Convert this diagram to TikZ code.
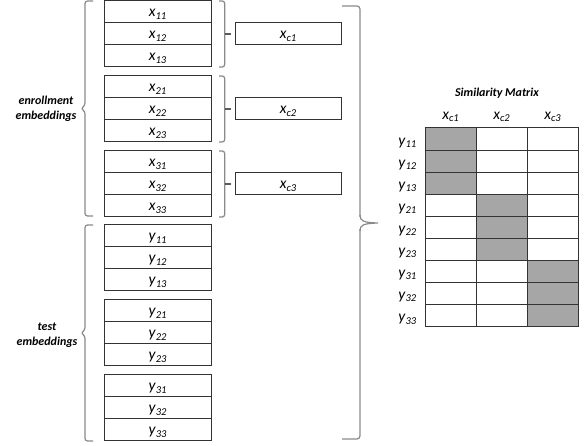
\documentclass[tikz,border=0pt]{standalone}
\usepackage{fontspec}
\setmainfont{Carlito}
\usetikzlibrary{calc}

% italic symbol with a lowered italic index
\newcommand\ssub[2]{\textit{#1}\raisebox{-2.2pt}{\fontsize{10.5}{10.5}\selectfont\textit{#2}}}

\definecolor{boxline}{HTML}{333333}
\definecolor{braceline}{HTML}{8A8A8A}
\definecolor{hit}{HTML}{A6A6A6}

\begin{document}
\begin{tikzpicture}[x=1pt,y=-1pt,
  lbl/.style={font=\fontsize{15.5}{15.5}\selectfont},
  row/.style={draw=boxline, line width=1pt, minimum width=107pt, minimum height=22pt,
              inner sep=0pt, text height=11pt, text depth=1pt, lbl},
  cbox/.style={row, minimum width=106pt},
  cell/.style={draw=boxline, line width=1pt, minimum width=51pt, minimum height=22.1pt, inner sep=0pt},
  hdr/.style={inner sep=0pt, anchor=base, lbl},
  rlab/.style={inner sep=0pt, anchor=base east, lbl},
  bracestyle/.style={draw=braceline, line width=1.2pt, rounded corners=2.5pt},
  tick/.style={draw=boxline!80!white, line width=1.2pt},
  side/.style={font=\fontsize{12}{14.5}\selectfont\bfseries\itshape, align=center, inner sep=0pt}
]
\useasboundingbox (0,0) rectangle (587,446);

% enrollment embeddings: three groups of three rows, each group averaged into x_c
\foreach \g/\t in {1/1,2/76,3/151}{
  \foreach \r in {1,2,3}
    \node[row] (x\g\r) at (157.5,{\t+11+(\r-1)*22}) {\ssub{x}{\g\r}};
  \node[cbox] (xc\g) at (288,{\t+33}) {\ssub{x}{c\g}};
  % small brace closing the group
  \draw[bracestyle] (219,\t) -- (224.7,\t) -- (224.7,{\t+66}) -- (219,{\t+66});
  \coordinate (bt\g) at (224.7,{\t+33});
  \draw[tick] (bt\g) -- ($(xc\g.west)+(-4,0)$);
}

% test embeddings
\foreach \g/\t in {1/225,2/300,3/375}
  \foreach \r in {1,2,3}
    \node[row] (y\g\r) at (157.5,{\t+11+(\r-1)*22}) {\ssub{y}{\g\r}};

% left braces with their labels
\draw[bracestyle] (93,1) -- (85,1) -- (85,105.5) -- (81,108.5) -- (85,111.5) -- (85,216) -- (93,216);
\draw[bracestyle] (93,225) -- (85,225) -- (85,330) -- (81,333) -- (85,336) -- (85,441) -- (93,441);
\node[side] (enr) at (46,109) {enrollment\\embeddings};
\node[side] (tst) at (47,335) {test\\embeddings};

% large brace gathering everything towards the matrix
\draw[braceline, line width=1.2pt, rounded corners=3pt]
  (342,6) -- (360,6) -- (360,217);
\draw[braceline, line width=1.2pt]
  (360,215) .. controls (360,221) and (363,222.5) .. (378,223)
  .. controls (363,223.5) and (360,225) .. (360,231);
\draw[braceline, line width=1.2pt, rounded corners=3pt]
  (360,229) -- (360,439) -- (342,439);

% similarity matrix
\node[side] (title) at (497,93) {Similarity Matrix};
\foreach \i in {1,...,9}{
  \pgfmathtruncatemacro\gi{div(\i-1,3)+1}
  \pgfmathtruncatemacro\ri{mod(\i-1,3)+1}
  \foreach \j in {1,2,3}{
    \ifnum\gi=\j \def\cf{hit}\else\def\cf{white}\fi
    \node[cell, fill=\cf] (m\i\j) at ({425+51*(\j-0.5)},{128+22.1*(\i-0.5)}) {};
  }
  \node[rlab] (r\i) at ($(m\i1.west)+(-8,6)$) {\ssub{y}{\gi\ri}};
}
\foreach \j in {1,2,3}
  \node[hdr] (h\j) at ($(m1\j.north)+(0,-8)$) {\ssub{x}{c\j}};
\end{tikzpicture}
\end{document}
